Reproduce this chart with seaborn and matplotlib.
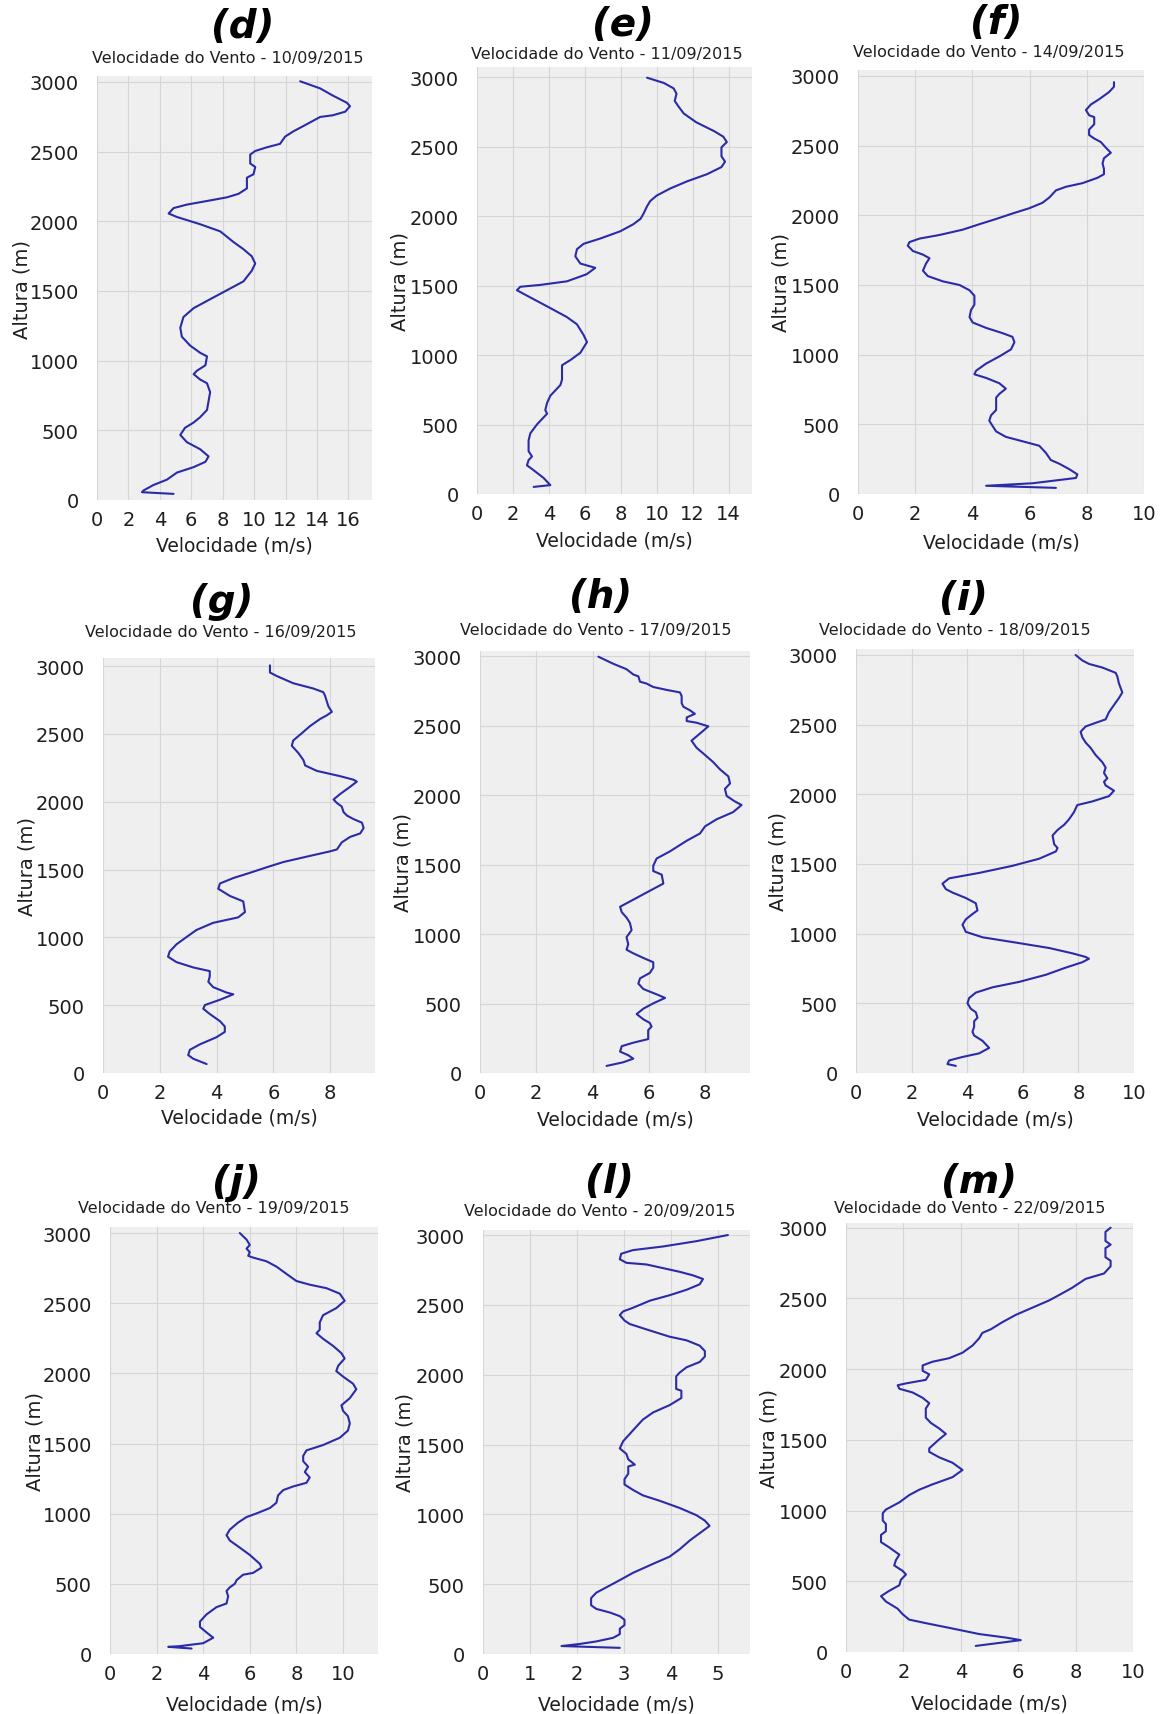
import matplotlib
matplotlib.use("Agg")
import matplotlib.pyplot as plt
import seaborn as sns
import pandas as pd
import numpy as np

# ---------------- data ----------------
alt_d = [3005,2954,2903,2851,2826,2787,2761,2749,2697,2646,2608,2556,2531,2505,2479,2415,2390,2338,2313,2236,2197,2172,2146,2120,2095,2056,2031,1979,1928,1851,1800,1749,1697,1646,1569,1505,1441,1377,1313,1236,1172,1108,1056,1031,967,928,903,864,838,774,646,595,556,518,467,415,364,313,274,236,197,146,108,69,56,44]
vel_d = [12.93,14.2,15.0,15.9,16.1,15.8,15.0,14.2,13.35,12.5,11.97,11.65,10.8,10.07,9.75,9.75,10.07,9.96,9.54,9.54,9.0,8.26,7.0,5.72,4.87,4.56,5.09,6.57,7.84,8.69,9.32,9.85,10.07,9.85,9.32,8.26,7.2,6.15,5.5,5.3,5.4,5.93,6.57,7.0,6.9,6.36,6.15,6.57,7.0,7.2,7.0,6.57,6.15,5.6,5.3,5.72,6.57,7.1,6.9,6.15,5.09,4.45,3.6,2.97,2.86,4.87]

alt_e = [2995,2957,2918,2880,2828,2790,2738,2674,2610,2571,2532,2494,2430,2391,2352,2301,2250,2198,2147,2108,2070,2018,1980,1941,1890,1838,1800,1761,1710,1658,1627,1581,1530,1504,1491,1466,1427,1350,1273,1221,1144,1093,1016,964,926,823,784,707,656,604,578,501,437,386,308,270,244,206,180,116,64,51]
vel_e = [9.46,10.4,10.94,11.1,11.0,11.2,11.5,12.2,13.2,13.7,13.9,13.6,13.6,13.8,13.6,12.8,11.7,10.75,10.0,9.64,9.46,9.27,9.1,8.7,7.97,6.86,5.93,5.56,5.47,5.75,6.58,6.1,5.0,3.5,2.41,2.22,2.78,3.9,5.0,5.56,5.93,6.12,5.75,5.2,4.73,4.73,4.64,4.08,3.9,3.8,3.9,3.34,2.97,2.87,2.87,3.06,2.87,2.78,3.06,3.7,4.08,3.15]

alt_f = [2956,2923,2885,2833,2795,2756,2718,2705,2654,2615,2577,2551,2526,2487,2449,2410,2372,2333,2295,2269,2231,2205,2179,2128,2090,2051,2013,1974,1936,1897,1859,1833,1808,1782,1744,1718,1692,1654,1603,1564,1526,1500,1462,1423,1359,1320,1269,1231,1192,1154,1128,1090,1038,987,936,885,859,833,795,756,718,692,603,564,526,487,449,410,372,346,295,244,218,179,141,115,77,59,44]
vel_f = [8.95,8.95,8.78,8.43,8.14,7.97,8.08,8.26,8.26,8.08,8.08,8.26,8.49,8.66,8.84,8.6,8.55,8.6,8.6,8.37,7.85,7.27,6.92,6.69,6.45,5.99,5.4,4.83,4.24,3.66,2.85,2.15,1.8,1.74,1.92,2.27,2.5,2.38,2.27,2.44,2.97,3.55,3.9,4.07,4.07,3.95,3.9,4.01,4.48,5.06,5.4,5.47,5.35,4.94,4.48,4.13,4.07,4.48,4.94,5.17,4.94,4.83,4.83,4.65,4.59,4.71,4.83,5.17,5.87,6.34,6.57,6.74,7.03,7.38,7.67,7.62,6.1,4.48,6.92]

alt_g = [3005,2952,2926,2873,2834,2807,2781,2741,2702,2662,2636,2610,2557,2504,2451,2412,2359,2306,2267,2227,2188,2162,2148,2109,2056,2016,1990,1964,1924,1898,1872,1845,1806,1766,1740,1700,1648,1634,1595,1555,1516,1476,1437,1397,1358,1305,1265,1186,1147,1107,1054,1002,949,896,857,817,778,751,712,672,633,593,580,540,501,474,435,382,343,303,264,211,171,132,105,66]
vel_g = [5.88,5.88,6.12,6.7,7.41,7.76,7.82,7.88,7.94,8.06,7.88,7.65,7.29,7.0,6.7,6.65,6.88,7.06,7.12,7.53,8.35,8.82,8.94,8.7,8.35,8.12,8.24,8.41,8.47,8.59,8.82,9.12,9.18,9.06,8.7,8.41,8.24,8.0,7.18,6.35,5.76,5.18,4.59,4.12,4.06,4.47,4.94,5.0,4.76,3.88,3.29,2.94,2.59,2.35,2.29,2.59,3.18,3.76,3.76,3.71,3.88,4.35,4.59,4.12,3.59,3.53,3.76,4.12,4.29,4.29,4.0,3.41,3.06,3.0,3.18,3.65]

alt_h = [2995,2944,2905,2867,2854,2815,2802,2777,2756,2738,2712,2661,2635,2610,2584,2558,2532,2520,2494,2442,2391,2340,2288,2237,2185,2134,2083,2044,1993,1954,1928,1877,1825,1774,1723,1671,1594,1543,1491,1453,1427,1363,1324,1273,1221,1196,1157,1118,1080,1028,977,926,887,861,823,797,758,720,681,643,604,566,540,501,463,424,386,360,334,308,244,218,193,154,128,103,77,51]
vel_h = [4.21,4.74,5.21,5.45,5.63,5.69,5.92,6.16,6.64,7.11,7.17,7.17,7.23,7.46,7.64,7.35,7.35,7.7,8.12,7.82,7.52,7.7,8.0,8.29,8.53,8.83,8.89,8.71,8.77,9.06,9.3,9.0,8.41,8.0,7.82,7.35,6.75,6.28,6.16,6.16,6.46,6.52,6.16,5.69,5.21,4.98,5.04,5.21,5.33,5.39,5.21,5.27,5.21,5.45,5.86,6.16,6.16,6.04,5.69,5.63,5.81,6.28,6.58,6.16,5.81,5.57,5.81,6.04,6.1,5.98,5.98,5.45,5.04,4.98,5.27,5.45,5.09,4.5]

alt_i = [3000,2961,2936,2910,2872,2846,2795,2731,2692,2641,2590,2538,2513,2487,2449,2410,2372,2333,2282,2231,2192,2154,2115,2090,2064,2026,1987,1949,1923,1872,1820,1782,1744,1705,1641,1615,1590,1538,1487,1436,1410,1397,1359,1320,1295,1256,1218,1167,1141,1103,1064,1013,974,936,897,859,833,820,795,756,705,654,615,577,538,500,461,436,397,372,333,295,269,231,180,141,115,90,64,51]
vel_i = [7.9,8.14,8.38,8.86,9.34,9.4,9.46,9.58,9.46,9.28,9.1,8.98,8.62,8.26,8.08,8.14,8.26,8.44,8.62,8.86,8.98,8.92,9.04,8.92,8.98,9.28,9.1,8.5,7.96,7.84,7.66,7.49,7.25,7.07,7.13,7.25,7.19,6.59,5.63,4.43,3.71,3.35,3.11,3.23,3.47,3.95,4.31,4.37,4.19,3.95,3.83,3.95,4.55,5.75,6.95,7.78,8.26,8.38,8.14,7.54,6.83,5.87,4.91,4.31,4.07,4.01,4.13,4.31,4.37,4.25,4.25,4.19,4.25,4.55,4.79,4.43,3.83,3.35,3.29,3.59]

alt_j = [3000,2953,2915,2889,2863,2838,2825,2799,2761,2709,2658,2632,2607,2568,2517,2465,2414,2363,2311,2286,2247,2196,2144,2106,2054,2016,1977,1926,1887,1823,1772,1733,1695,1643,1592,1541,1489,1451,1412,1374,1335,1297,1258,1220,1194,1168,1130,1078,1040,1002,976,937,886,847,809,758,706,642,616,578,565,526,501,475,449,411,360,334,282,231,193,154,116,77,56,51,39]
vel_j = [5.57,5.86,6.0,5.86,6.0,5.93,6.14,6.71,7.14,7.57,8.0,8.57,9.29,9.86,10.07,9.71,9.14,9.0,9.0,8.86,9.14,9.57,9.93,10.07,9.79,9.71,10.0,10.43,10.57,10.29,9.93,10.0,10.21,10.29,10.21,9.86,9.14,8.43,8.29,8.29,8.5,8.36,8.57,8.43,7.86,7.43,7.21,7.14,6.86,6.29,5.86,5.5,5.14,5.0,5.14,5.57,6.0,6.43,6.5,6.14,5.71,5.43,5.36,5.14,5.0,5.07,5.0,4.57,4.14,3.86,3.86,4.14,4.43,4.0,3.0,2.5,3.5]

alt_l = [3000,2956,2918,2892,2866,2827,2801,2789,2763,2737,2711,2685,2647,2608,2569,2530,2479,2453,2427,2388,2363,2324,2272,2246,2208,2169,2130,2091,2053,2014,1988,1898,1885,1833,1782,1730,1678,1627,1575,1523,1472,1433,1394,1356,1343,1291,1252,1214,1175,1136,1097,1046,994,955,917,865,813,749,697,646,581,529,491,439,400,349,323,297,271,245,207,181,142,116,90,72,57,44]
vel_l = [5.21,4.54,3.83,3.19,2.94,2.91,3.05,3.48,3.83,4.18,4.47,4.68,4.61,4.33,3.97,3.55,3.19,2.98,2.91,3.01,3.12,3.48,3.97,4.33,4.61,4.72,4.72,4.61,4.33,4.18,4.11,4.11,4.22,4.22,3.97,3.62,3.4,3.26,3.12,2.98,2.91,3.05,3.09,3.23,3.09,3.09,3.01,3.01,3.19,3.4,3.76,4.18,4.54,4.72,4.82,4.61,4.4,4.18,3.97,3.62,3.19,2.91,2.7,2.41,2.3,2.3,2.41,2.7,2.91,3.01,3.01,2.91,2.91,2.77,2.41,2.06,1.67,2.91]

alt_m = [3000,2970,2906,2880,2855,2791,2766,2727,2676,2638,2575,2523,2485,2434,2383,2332,2281,2256,2218,2167,2141,2116,2077,2052,2026,1988,1963,1924,1899,1886,1861,1835,1797,1759,1721,1657,1619,1580,1542,1504,1440,1415,1376,1338,1287,1236,1185,1147,1109,1058,1007,981,930,905,854,828,777,739,688,650,612,574,548,510,472,433,395,357,306,268,229,204,166,127,102,84,64,43]
vel_m = [9.22,9.04,9.04,9.22,9.04,9.04,9.22,9.22,8.99,8.35,7.88,7.42,7.07,6.49,5.91,5.45,5.04,4.75,4.64,4.41,4.23,4.06,3.59,3.01,2.67,2.67,2.9,2.78,2.09,1.8,1.86,2.32,2.67,2.9,2.78,2.78,2.96,3.25,3.48,3.25,2.9,2.9,3.25,3.71,4.06,3.71,3.01,2.55,2.2,1.86,1.39,1.28,1.28,1.39,1.39,1.22,1.22,1.51,1.86,1.74,1.68,1.97,2.09,1.91,1.86,1.51,1.22,1.39,1.8,1.97,2.2,2.78,3.71,4.64,5.57,6.09,5.33,4.52]

panel_letters = ["(d)", "(e)", "(f)", "(g)", "(h)", "(i)", "(j)", "(l)", "(m)"]
panel_dates = ["10/09/2015", "11/09/2015", "14/09/2015", "16/09/2015", "17/09/2015",
               "18/09/2015", "19/09/2015", "20/09/2015", "22/09/2015"]
altitudes = [alt_d, alt_e, alt_f, alt_g, alt_h, alt_i, alt_j, alt_l, alt_m]
velocities = [vel_d, vel_e, vel_f, vel_g, vel_h, vel_i, vel_j, vel_l, vel_m]
x_tick_max = [16, 14, 10, 8, 8, 10, 10, 5, 10]
x_tick_step = [2, 2, 2, 2, 2, 2, 2, 1, 2]
x_lim_max = [17.5, 15.3, 10, 9.58, 9.6, 10, 11.5, 5.68, 10]
y_ticks = [0, 500, 1000, 1500, 2000, 2500, 3000]

# ---------------- layout (pixels in the 1166x1715 image) ----------------
W, H = 1166, 1715
# left, right, top, bottom(y=0 line), ymax, title xy, subtitle xy, ylabel x, xlabel y
layout = [
    (97, 372, 77, 501, 3043, (243, 27), (228, 58), 22, 546),
    (477, 752, 68, 495, 3072, (623, 25), (607, 55), 400, 541),
    (858, 1144, 71, 495, 3043, (996, 23), (989, 52), 781, 543),
    (103, 375, 659, 1074, 3059, (222, 602), (221, 632), 27, 1118),
    (480, 750, 652, 1074, 3036, (601, 597), (596, 631), 403, 1120),
    (856, 1134, 650, 1074, 3043, (963, 599), (955, 631), 778, 1120),
    (110, 378, 1228, 1655, 3043, (236, 1183), (214, 1209), 35, 1705),
    (483, 750, 1231, 1655, 3036, (609, 1182), (600, 1212), 405, 1705),
    (846, 1133, 1224, 1653, 3033, (979, 1182), (970, 1209), 769, 1704),
]

sns.set_theme(style="whitegrid", rc={
    "axes.facecolor": "#EFEFEF",
    "grid.color": "#D6D6D6",
    "grid.linewidth": 0.8,
    "axes.edgecolor": "#EFEFEF",
    "figure.facecolor": "white",
})
plt.rcParams["font.family"] = ["DejaVu Sans"]
plt.rcParams["text.color"] = "#1e1e1e"

fig = plt.figure(figsize=(W / 100, H / 100), dpi=100)
line_color = "#2B2BA8"

for k in range(9):
    L, R, T, B, ymax, tpos, spos, ylx, xly = layout[k]
    ax = fig.add_axes([L / W, 1 - B / H, (R - L) / W, (B - T) / H])
    df = pd.DataFrame({"Velocidade": velocities[k], "Altura": altitudes[k]})
    sns.lineplot(data=df, x="Velocidade", y="Altura", sort=False, estimator=None,
                 color=line_color, linewidth=1.5, ax=ax)
    ax.set_xlim(0, x_lim_max[k])
    ax.set_ylim(0, ymax)
    ax.set_xticks(np.arange(0, x_tick_max[k] + 0.001, x_tick_step[k]))
    ax.set_yticks(y_ticks)
    for s in ax.spines.values():
        s.set_visible(False)
    ax.tick_params(axis="y", labelsize=14, pad=13, length=0, labelcolor="#1e1e1e")
    ax.tick_params(axis="x", labelsize=14, pad=7, length=0, labelcolor="#1e1e1e")
    ax.set_xlabel("Velocidade (m/s)", fontsize=13.5, color="#1e1e1e")
    ax.set_ylabel("Altura (m)", fontsize=14, color="#1e1e1e")
    ax.xaxis.set_label_coords(0.5, (B - xly) / (B - T))
    ax.xaxis.label.set_verticalalignment("center")
    ax.yaxis.set_label_coords((ylx - L) / (R - L), 0.5)
    ax.yaxis.label.set_verticalalignment("center")
    fig.text(tpos[0] / W, 1 - tpos[1] / H, panel_letters[k], fontsize=28,
             fontweight="heavy", fontstyle="italic", ha="center", va="center",
             color="black")
    fig.text(spos[0] / W, 1 - spos[1] / H, "Velocidade do Vento - " + panel_dates[k],
             fontsize=11.5, ha="center", va="center", color="#1e1e1e")

fig.savefig("out.png", dpi=100)
